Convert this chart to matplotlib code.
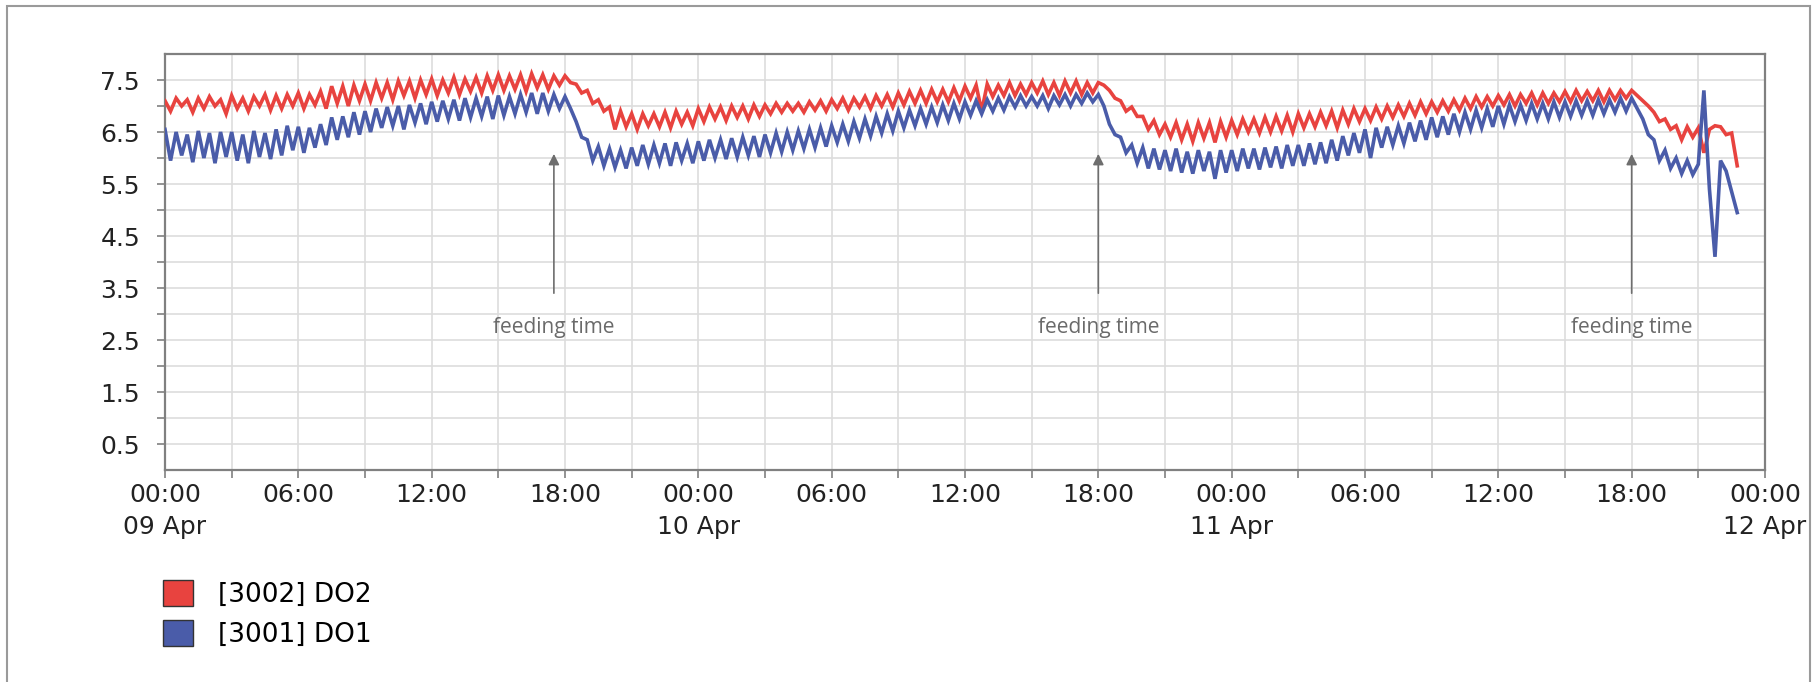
import matplotlib
matplotlib.use("Agg")
import matplotlib.pyplot as plt
import matplotlib.dates as mdates
from matplotlib.patches import Patch, Rectangle
import pandas as pd

# DO readings, one value every 15 minutes from 09 Apr 00:00 (4 per row = 1 hour)
do2 = [
    7.10, 6.90, 7.15, 7.00,  7.12, 6.88, 7.15, 6.95,  7.18, 7.00, 7.12, 6.85,
    7.20, 6.95, 7.15, 6.90,  7.18, 7.00, 7.22, 6.92,  7.20, 6.95, 7.22, 7.00,
    7.25, 6.95, 7.22, 7.02,  7.28, 6.95, 7.38, 7.05,  7.38, 7.00, 7.40, 7.10,
    7.42, 7.10, 7.45, 7.15,  7.45, 7.12, 7.48, 7.20,  7.48, 7.15, 7.50, 7.22,
    7.52, 7.20, 7.50, 7.25,  7.55, 7.22, 7.52, 7.28,  7.55, 7.25, 7.58, 7.30,
    7.60, 7.30, 7.58, 7.32,  7.60, 7.28, 7.62, 7.35,  7.60, 7.32, 7.58, 7.40,
    7.58, 7.45, 7.42, 7.25,  7.30, 7.05, 7.12, 6.90,  6.98, 6.55, 6.90, 6.60,
    6.85, 6.55, 6.85, 6.62,  6.85, 6.60, 6.88, 6.58,  6.90, 6.65, 6.88, 6.62,
    6.95, 6.70, 6.98, 6.75,  6.98, 6.72, 7.00, 6.78,  7.00, 6.75, 7.02, 6.80,
    7.02, 6.85, 7.05, 6.88,  7.05, 6.90, 7.05, 6.88,  7.08, 6.92, 7.10, 6.90,
    7.12, 6.95, 7.15, 6.92,  7.15, 6.98, 7.18, 6.95,  7.20, 7.00, 7.22, 6.98,
    7.25, 7.02, 7.28, 7.05,  7.30, 7.05, 7.32, 7.08,  7.32, 7.08, 7.35, 7.10,
    7.38, 7.15, 7.40, 6.90,  7.42, 7.18, 7.40, 7.20,  7.45, 7.20, 7.42, 7.22,
    7.45, 7.25, 7.48, 7.22,  7.45, 7.20, 7.48, 7.25,  7.48, 7.22, 7.45, 7.25,
    7.45, 7.40, 7.30, 7.15,  7.10, 6.90, 6.98, 6.80,  6.80, 6.55, 6.72, 6.45,
    6.65, 6.40, 6.68, 6.35,  6.65, 6.32, 6.68, 6.38,  6.68, 6.30, 6.70, 6.40,
    6.72, 6.45, 6.75, 6.50,  6.75, 6.48, 6.78, 6.50,  6.80, 6.52, 6.82, 6.50,
    6.85, 6.58, 6.85, 6.60,  6.88, 6.62, 6.90, 6.58,  6.92, 6.65, 6.95, 6.70,
    6.95, 6.72, 6.98, 6.75,  7.00, 6.78, 7.02, 6.80,  7.05, 6.82, 7.08, 6.85,
    7.08, 6.88, 7.10, 6.90,  7.12, 6.92, 7.15, 6.95,  7.18, 6.98, 7.18, 7.00,
    7.20, 7.02, 7.22, 7.00,  7.22, 7.05, 7.25, 7.02,  7.25, 7.05, 7.25, 7.08,
    7.28, 7.08, 7.30, 7.10,  7.28, 7.10, 7.30, 7.08,  7.30, 7.12, 7.30, 7.15,
    7.30, 7.20, 7.10, 7.00,  6.88, 6.70, 6.75, 6.55,  6.62, 6.35, 6.60, 6.40,
    6.58, 6.10, 6.55, 6.62,  6.60, 6.45, 6.48, 5.85,
]

do1 = [
    6.55, 5.95, 6.50, 6.05,  6.45, 5.92, 6.52, 6.00,  6.48, 5.90, 6.50, 6.02,
    6.50, 5.95, 6.45, 5.90,  6.52, 6.02, 6.48, 5.98,  6.55, 6.05, 6.62, 6.15,
    6.60, 6.10, 6.58, 6.20,  6.65, 6.25, 6.78, 6.35,  6.80, 6.40, 6.88, 6.45,
    6.90, 6.50, 6.95, 6.58,  6.98, 6.62, 7.00, 6.55,  7.02, 6.68, 7.05, 6.65,
    7.08, 6.70, 7.10, 6.75,  7.12, 6.72, 7.15, 6.78,  7.15, 6.80, 7.18, 6.75,
    7.20, 6.82, 7.18, 6.85,  7.22, 6.88, 7.25, 6.85,  7.25, 6.90, 7.22, 6.95,
    7.18, 6.95, 6.70, 6.40,  6.35, 5.95, 6.22, 5.85,  6.18, 5.82, 6.15, 5.80,
    6.20, 5.85, 6.25, 5.88,  6.25, 5.90, 6.28, 5.85,  6.30, 5.95, 6.28, 5.90,
    6.32, 5.95, 6.35, 6.00,  6.35, 5.98, 6.38, 6.02,  6.40, 6.05, 6.42, 6.02,
    6.45, 6.10, 6.48, 6.12,  6.50, 6.15, 6.52, 6.18,  6.55, 6.20, 6.58, 6.22,
    6.62, 6.30, 6.65, 6.32,  6.70, 6.38, 6.75, 6.42,  6.80, 6.48, 6.85, 6.52,
    6.90, 6.58, 6.92, 6.62,  6.95, 6.65, 6.98, 6.68,  7.02, 6.72, 7.05, 6.75,
    7.08, 6.82, 7.10, 6.85,  7.12, 6.90, 7.15, 6.92,  7.18, 6.98, 7.20, 7.00,
    7.18, 7.00, 7.20, 6.95,  7.20, 7.02, 7.22, 7.00,  7.22, 7.05, 7.25, 7.08,
    7.22, 7.00, 6.65, 6.45,  6.40, 6.10, 6.25, 5.90,  6.20, 5.80, 6.18, 5.78,
    6.15, 5.75, 6.18, 5.72,  6.12, 5.70, 6.15, 5.75,  6.12, 5.60, 6.15, 5.72,
    6.15, 5.75, 6.18, 5.80,  6.18, 5.78, 6.20, 5.82,  6.22, 5.80, 6.25, 5.85,
    6.25, 5.85, 6.28, 5.88,  6.30, 5.90, 6.35, 5.95,  6.42, 6.05, 6.48, 6.10,
    6.55, 6.00, 6.58, 6.20,  6.60, 6.25, 6.62, 6.28,  6.68, 6.32, 6.72, 6.35,
    6.78, 6.40, 6.80, 6.45,  6.85, 6.50, 6.88, 6.55,  6.92, 6.58, 6.95, 6.60,
    7.00, 6.65, 7.02, 6.70,  7.02, 6.72, 7.05, 6.75,  7.05, 6.75, 7.08, 6.78,
    7.08, 6.80, 7.10, 6.82,  7.10, 6.82, 7.12, 6.85,  7.12, 6.88, 7.15, 6.90,
    7.15, 6.95, 6.75, 6.45,  6.35, 5.95, 6.15, 5.80,  6.00, 5.70, 5.95, 5.68,
    5.88, 7.30, 5.40, 4.10,  5.95, 5.75, 5.35, 4.95,
]

labels = ["[3002] DO2", "[3001] DO1"]
feeding_times = ["2019-04-09 17:30", "2019-04-10 18:00", "2019-04-11 18:00"]

times = pd.date_range("2019-04-09 00:00", periods=len(do2), freq="15min")

RED = "#e8433f"
BLUE = "#4a5ca9"
GRID = "#dddddd"
SPINE = "#808080"

fig = plt.figure(figsize=(18.17, 6.82), dpi=100)
ax = fig.add_axes([165 / 1817, 212 / 682, 1600 / 1817, 416 / 682])

ax.plot(times, do2, color=RED, lw=2.6, solid_joinstyle="miter", zorder=3)
ax.plot(times, do1, color=BLUE, lw=2.6, solid_joinstyle="miter", zorder=4)

ax.set_xlim(pd.Timestamp("2019-04-09"), pd.Timestamp("2019-04-12"))
ax.set_ylim(0, 8)

ax.xaxis.set_major_locator(mdates.HourLocator(byhour=[0, 6, 12, 18]))
ax.xaxis.set_minor_locator(mdates.HourLocator(byhour=[3, 9, 15, 21]))


def fmt_time(x, pos=None):
    d = mdates.num2date(x)
    if d.hour == 0:
        return d.strftime("%H:%M") + "\n" + d.strftime("%d %b")
    return d.strftime("%H:%M")


ax.xaxis.set_major_formatter(plt.FuncFormatter(fmt_time))
ax.set_yticks([0.5, 1.5, 2.5, 3.5, 4.5, 5.5, 6.5, 7.5])
ax.set_yticks([1, 2, 3, 4, 5, 6, 7], minor=True)

ax.grid(which="both", color=GRID, lw=1.2, zorder=0)
ax.set_axisbelow(True)
for s in ax.spines.values():
    s.set_color(SPINE)
    s.set_linewidth(1.6)

ax.tick_params(axis="both", which="both", length=6, width=1.2, color=SPINE,
               labelsize=18, labelcolor="#222222")
ax.tick_params(axis="x", which="major", pad=3)
ax.tick_params(axis="y", which="major", pad=12)
for lab in ax.get_xticklabels():
    lab.set_linespacing(1.45)

for ft in feeding_times:
    t = pd.Timestamp(ft)
    ax.annotate("", xy=(t, 6.08), xytext=(t, 3.4),
                arrowprops=dict(arrowstyle="-|>", color="#6e6e6e", lw=1.2,
                                mutation_scale=16, shrinkA=0, shrinkB=0),
                zorder=5)
    ax.text(t, 2.75, "feeding time", ha="center", va="center", fontsize=15,
            color="#6a6a6a", family=["Open Sans", "DejaVu Sans"])

handles = [Patch(facecolor=RED, edgecolor="#333333", label=labels[0]),
           Patch(facecolor=BLUE, edgecolor="#333333", label=labels[1])]
fig.legend(handles=handles, loc="upper left", bbox_to_anchor=(163 / 1817, 1 - 580 / 682),
           frameon=False, fontsize=19, handlelength=1.15, handleheight=1.15,
           handletextpad=0.95, labelspacing=0.45, borderpad=0, borderaxespad=0)

fig.add_artist(Rectangle((7 / 1817, -0.02), 1803 / 1817, 1.02 - 6 / 682, fill=False,
                         edgecolor="#9a9a9a", lw=1.5, transform=fig.transFigure))

fig.savefig("out.png", dpi=100)
